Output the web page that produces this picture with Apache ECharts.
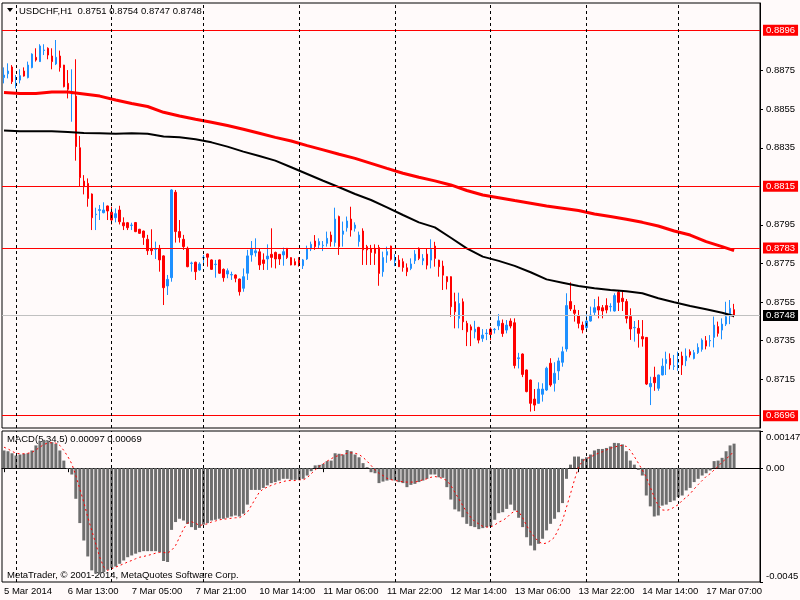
<!DOCTYPE html>
<html>
<head>
<meta charset="utf-8">
<title>USDCHF,H1</title>
<script src="https://cdn.jsdelivr.net/npm/echarts@6/dist/echarts.min.js"></script>
<style>
html,body{margin:0;padding:0;background:#FFFAFA;}
#chart{width:800px;height:600px;}
</style>
</head>
<body>
<div id="chart"></div>
<script type="text/javascript">
// H1 bars, first bar = 5 Mar 2014 21:00
var opens = [
0.88714,0.88734,0.88769,0.88683,0.88701,0.88748,0.88714,0.88766,0.88819,0.88797,
0.88855,0.88866,0.88826,0.88785,0.88826,0.88779,0.88684,0.88629,0.88618,0.88350,
0.88177,0.88165,0.88110,0.88003,0.88025,0.88013,0.88048,0.88016,0.87987,0.88027,
0.87961,0.87961,0.87947,0.87962,0.87927,0.87918,0.87875,0.87828,0.87823,0.87828,
0.87789,0.87633,0.87676,0.88119,0.87915,0.87875,0.87828,0.87750,0.87756,0.87716,
0.87779,0.87799,0.87768,0.87744,0.87768,0.87719,0.87695,0.87690,0.87690,0.87669,
0.87621,0.87699,0.87794,0.87805,0.87810,0.87768,0.87773,0.87797,0.87807,0.87797,
0.87794,0.87828,0.87780,0.87759,0.87768,0.87738,0.87773,0.87825,0.87866,0.87845,
0.87842,0.87854,0.87897,0.87859,0.87993,0.87901,0.87935,0.87980,0.87932,0.87863,
0.87918,0.87837,0.87828,0.87828,0.87832,0.87707,0.87793,0.87840,0.87762,0.87767,
0.87759,0.87727,0.87724,0.87764,0.87828,0.87764,0.87798,0.87767,0.87840,0.87767,
0.87736,0.87681,0.87681,0.87551,0.87465,0.87551,0.87439,0.87421,0.87395,0.87418,
0.87361,0.87386,0.87409,0.87406,0.87426,0.87439,0.87404,0.87451,0.87442,0.87256,
0.87280,0.87197,0.87145,0.87046,0.87024,0.87071,0.87093,0.87232,0.87128,0.87192,
0.87237,0.87306,0.87552,0.87508,0.87479,0.87430,0.87417,0.87451,0.87496,0.87526,
0.87520,0.87531,0.87525,0.87503,0.87600,0.87569,0.87552,0.87474,0.87416,0.87413,
0.87370,0.87366,0.87110,0.87159,0.87102,0.87171,0.87231,0.87257,0.87216,0.87235,
0.87269,0.87245,0.87292,0.87257,0.87287,0.87304,0.87349,0.87348,0.87366,0.87422,
0.87404,0.87435,0.87477,0.87510];
var highs = [
0.88767,0.88788,0.88779,0.88727,0.88757,0.88767,0.88797,0.88840,0.88866,0.88887,
0.88887,0.88871,0.88866,0.88909,0.88854,0.88780,0.88753,0.88757,0.88809,0.88411,
0.88208,0.88191,0.88113,0.88039,0.88053,0.88067,0.88050,0.88044,0.88035,0.88049,
0.87989,0.87965,0.87961,0.87965,0.87929,0.87920,0.87898,0.87927,0.87863,0.87846,
0.87792,0.87690,0.88135,0.88131,0.87975,0.87898,0.87837,0.87759,0.87759,0.87756,
0.87794,0.87801,0.87771,0.87768,0.87770,0.87724,0.87724,0.87707,0.87693,0.87671,
0.87724,0.87820,0.87866,0.87880,0.87828,0.87802,0.87849,0.87932,0.87811,0.87799,
0.87832,0.87830,0.87782,0.87776,0.87782,0.87773,0.87842,0.87863,0.87897,0.87880,
0.87866,0.87915,0.87915,0.88039,0.87998,0.87967,0.87993,0.88044,0.87963,0.87915,
0.87932,0.87846,0.87846,0.87849,0.87846,0.87811,0.87837,0.87842,0.87798,0.87793,
0.87776,0.87750,0.87776,0.87819,0.87833,0.87798,0.87828,0.87875,0.87862,0.87769,
0.87764,0.87683,0.87683,0.87598,0.87598,0.87568,0.87452,0.87433,0.87452,0.87421,
0.87409,0.87409,0.87418,0.87415,0.87487,0.87459,0.87456,0.87465,0.87465,0.87286,
0.87283,0.87199,0.87147,0.87098,0.87133,0.87128,0.87214,0.87258,0.87237,0.87261,
0.87318,0.87595,0.87652,0.87534,0.87508,0.87448,0.87486,0.87526,0.87565,0.87578,
0.87534,0.87569,0.87543,0.87595,0.87612,0.87612,0.87565,0.87517,0.87451,0.87456,
0.87456,0.87368,0.87162,0.87214,0.87173,0.87257,0.87292,0.87283,0.87275,0.87292,
0.87292,0.87309,0.87304,0.87301,0.87335,0.87361,0.87373,0.87378,0.87474,0.87448,
0.87465,0.87551,0.87560,0.87540];
var lows = [
0.88684,0.88710,0.88681,0.88658,0.88684,0.88719,0.88710,0.88762,0.88797,0.88795,
0.88831,0.88809,0.88757,0.88779,0.88745,0.88663,0.88606,0.88485,0.88283,0.88151,
0.88108,0.88044,0.87923,0.87923,0.87975,0.88010,0.87975,0.87952,0.87963,0.87952,
0.87923,0.87923,0.87923,0.87912,0.87903,0.87846,0.87794,0.87794,0.87773,0.87707,
0.87534,0.87586,0.87655,0.87858,0.87858,0.87820,0.87730,0.87707,0.87664,0.87712,
0.87750,0.87733,0.87716,0.87676,0.87696,0.87655,0.87673,0.87664,0.87652,0.87583,
0.87603,0.87664,0.87759,0.87785,0.87716,0.87716,0.87716,0.87728,0.87724,0.87742,
0.87738,0.87773,0.87740,0.87740,0.87733,0.87721,0.87768,0.87814,0.87820,0.87828,
0.87814,0.87837,0.87837,0.87837,0.87794,0.87837,0.87915,0.87889,0.87915,0.87837,
0.87742,0.87742,0.87742,0.87742,0.87634,0.87681,0.87753,0.87764,0.87736,0.87731,
0.87707,0.87684,0.87715,0.87747,0.87767,0.87741,0.87719,0.87724,0.87733,0.87681,
0.87612,0.87615,0.87473,0.87413,0.87413,0.87404,0.87321,0.87321,0.87361,0.87335,
0.87343,0.87352,0.87352,0.87386,0.87404,0.87369,0.87387,0.87413,0.87205,0.87205,
0.87160,0.87081,0.86981,0.86984,0.87022,0.87033,0.87088,0.87110,0.87085,0.87145,
0.87214,0.87292,0.87503,0.87448,0.87413,0.87387,0.87405,0.87448,0.87482,0.87465,
0.87465,0.87491,0.87500,0.87500,0.87503,0.87503,0.87439,0.87353,0.87344,0.87313,
0.87318,0.87119,0.87015,0.87089,0.87089,0.87169,0.87171,0.87200,0.87197,0.87193,
0.87171,0.87217,0.87262,0.87252,0.87280,0.87292,0.87304,0.87318,0.87314,0.87370,
0.87356,0.87425,0.87435,0.87470];
var closes = [
0.88727,0.88748,0.88693,0.88685,0.88724,0.88722,0.88779,0.88836,0.88805,0.88878,
0.88857,0.88831,0.88797,0.88819,0.88766,0.88667,0.88653,0.88639,0.88356,0.88195,
0.88148,0.88087,0.87987,0.88006,0.88029,0.88027,0.88022,0.87975,0.88008,0.87966,
0.87945,0.87935,0.87949,0.87915,0.87906,0.87885,0.87816,0.87816,0.87825,0.87768,
0.87624,0.87667,0.88131,0.87915,0.87885,0.87837,0.87733,0.87752,0.87707,0.87747,
0.87781,0.87782,0.87719,0.87746,0.87699,0.87676,0.87712,0.87692,0.87673,0.87603,
0.87681,0.87789,0.87828,0.87815,0.87742,0.87750,0.87788,0.87781,0.87773,0.87773,
0.87811,0.87780,0.87742,0.87742,0.87750,0.87768,0.87825,0.87849,0.87837,0.87863,
0.87844,0.87880,0.87863,0.87980,0.87837,0.87918,0.87970,0.87923,0.87949,0.87897,
0.87820,0.87820,0.87807,0.87802,0.87698,0.87780,0.87811,0.87771,0.87776,0.87733,
0.87729,0.87707,0.87747,0.87798,0.87776,0.87776,0.87741,0.87823,0.87776,0.87733,
0.87689,0.87655,0.87525,0.87499,0.87542,0.87447,0.87395,0.87404,0.87409,0.87352,
0.87378,0.87388,0.87381,0.87408,0.87452,0.87386,0.87430,0.87425,0.87220,0.87260,
0.87174,0.87085,0.87024,0.87015,0.87098,0.87098,0.87206,0.87119,0.87180,0.87244,
0.87292,0.87531,0.87514,0.87491,0.87439,0.87405,0.87451,0.87482,0.87520,0.87508,
0.87503,0.87508,0.87527,0.87583,0.87548,0.87552,0.87465,0.87410,0.87418,0.87387,
0.87358,0.87124,0.87127,0.87131,0.87171,0.87217,0.87252,0.87223,0.87218,0.87249,
0.87223,0.87269,0.87275,0.87287,0.87314,0.87352,0.87321,0.87350,0.87430,0.87387,
0.87435,0.87473,0.87517,0.87480];

// moving averages, read every 4th bar (and the last one)
var maIdx = [0,4,8,12,16,20,24,28,32,36,40,44,48,52,56,60,64,68,72,76,80,84,88,92,96,
  100,104,108,112,116,120,124,128,132,136,140,144,148,152,156,160,164,168,172,176,180,183];
var maRed = [
0.88637,0.88632,0.88632,0.88639,0.88639,0.88629,0.88618,0.88598,0.88580,0.88564,
0.88534,0.88515,0.88498,0.88482,0.88465,0.88446,0.88425,0.88404,0.88385,0.88361,
0.88339,0.88316,0.88295,0.88269,0.88243,0.88218,0.88197,0.88178,0.88157,0.88128,
0.88105,0.88091,0.88076,0.88062,0.88048,0.88036,0.88024,0.88006,0.87993,0.87979,
0.87963,0.87944,0.87918,0.87897,0.87863,0.87837,0.87816];
var maBlack = [
0.88440,0.88435,0.88435,0.88435,0.88432,0.88426,0.88425,0.88423,0.88425,0.88423,
0.88408,0.88404,0.88394,0.88378,0.88356,0.88330,0.88307,0.88283,0.88249,0.88214,
0.88179,0.88145,0.88110,0.88079,0.88041,0.88001,0.87963,0.87937,0.87883,0.87828,
0.87785,0.87763,0.87737,0.87704,0.87667,0.87650,0.87633,0.87621,0.87612,0.87605,
0.87595,0.87569,0.87548,0.87529,0.87512,0.87494,0.87477];

// MACD(5,34,5) in points of 0.00001
var macdMainPts = [
70,67,59,50,54,57,59,70,90,107,
112,109,103,96,70,30,-3,-25,-121,-217,
-286,-349,-404,-417,-420,-411,-402,-394,-389,-378,
-365,-352,-345,-338,-332,-328,-328,-328,-328,-332,
-367,-371,-244,-213,-200,-207,-220,-233,-244,-236,
-223,-217,-207,-204,-200,-200,-196,-191,-187,-191,
-180,-144,-86,-86,-86,-78,-68,-59,-55,-49,
-42,-42,-46,-46,-46,-42,-29,-12,11,13,
17,28,30,59,57,54,72,67,54,43,
20,4,-16,-20,-59,-53,-49,-46,-49,-55,
-59,-75,-66,-62,-55,-49,-42,-25,-25,-36,
-38,-75,-124,-163,-171,-194,-220,-229,-233,-241,
-237,-233,-230,-204,-178,-174,-161,-144,-167,-196,
-233,-273,-306,-325,-299,-279,-246,-220,-200,-174,
-138,-42,14,46,46,37,43,54,70,76,
76,80,86,100,99,94,67,30,14,-7,
-29,-108,-151,-191,-187,-148,-144,-134,-128,-115,
-108,-88,-78,-55,-42,-29,-20,-9,28,30,
41,67,90,97];
var macdSignalPts = [
83,76,67,59,57,57,59,63,72,83,
94,99,101,99,90,70,46,17,-29,-82,
-134,-194,-246,-299,-352,-391,-404,-398,-391,-385,
-378,-371,-365,-358,-352,-349,-345,-341,-336,-333,
-333,-336,-325,-306,-273,-240,-217,-212,-217,-227,
-223,-220,-213,-209,-204,-202,-200,-198,-196,-196,
-187,-174,-148,-121,-95,-82,-75,-68,-62,-58,
-53,-49,-49,-49,-46,-46,-38,-22,-7,7,
17,28,37,46,50,54,59,61,59,54,
43,28,11,-7,-20,-29,-40,-45,-49,-51,
-54,-55,-55,-55,-51,-46,-42,-36,-33,-36,
-41,-49,-68,-95,-121,-148,-174,-194,-211,-220,
-230,-233,-232,-225,-213,-207,-196,-180,-170,-171,
-196,-227,-253,-273,-290,-299,-296,-286,-273,-240,
-207,-154,-101,-46,4,28,38,43,53,59,
65,72,79,83,88,90,86,70,46,20,
-7,-36,-75,-115,-148,-165,-167,-163,-154,-144,
-128,-115,-101,-82,-65,-49,-33,-22,-7,7,
24,37,50,69];

// right scale labels
var priceTicks = [0.8715,0.8735,0.8755,0.8775,0.8795,0.8835,0.8855,0.8875];
var levelLines = [0.8896,0.8815,0.8783,0.8696];
var lastPrice = 0.8748;
var macdTicks = [0.00147,0,-0.0045];
var macdTickText = ['0.00147','0.00','-0.0045'];
var firstLabel = '5 Mar 2014';

var FONT = 'Liberation Sans';
var FS = 9.5;

// hourly time axis, fridays stop at 22:00, plus a few empty slots on the right
var months = ['Jan','Feb','Mar','Apr','May','Jun','Jul','Aug','Sep','Oct','Nov','Dec'];
var categories = [];
var t = Date.UTC(2014,2,5,21);
while(categories.length < 190){
    var d = new Date(t);
    var wd = d.getUTCDay(), h = d.getUTCHours();
    if(!(wd===6 || wd===0 || (wd===5 && h===23))){
        categories.push(d.getUTCDate()+' '+months[d.getUTCMonth()]+' '+(h<10?'0'+h:h)+':00');
    }
    t += 3600000;
}
var nBars = opens.length;

// day separators
var dayLines = [];
for(var i=1;i<nBars;i++){
    if(categories[i].slice(-5)==='00:00') dayLines.push({xAxis:categories[i]});
}

var candles = [];
for(var i=0;i<nBars;i++) candles.push([opens[i],closes[i],lows[i],highs[i]]);

var redPts = [], blackPts = [];
for(var i=0;i<maIdx.length;i++){
    redPts.push([maIdx[i],maRed[i]]);
    blackPts.push([maIdx[i],maBlack[i]]);
}
var macdMain = macdMainPts.map(function(v){return v/100000;});
var macdSignal = macdSignalPts.map(function(v){return v/100000;});

var hLines = levelLines.map(function(v){
    return {yAxis:v, lineStyle:{color:'#FF0000'}, label:{backgroundColor:'#FF0000'}};
});
hLines.push({yAxis:lastPrice, lineStyle:{color:'#C0C0C0'}, label:{backgroundColor:'#000000'}});

var dashStyle = {color:'#000', width:1, type:[3,3]};

var myChart = echarts.init(document.getElementById('chart'));
var option = {
    backgroundColor:'#FFFAFA',
    animation:false,
    textStyle:{fontFamily:FONT},
    grid:[
        {left:2, top:3, width:758, height:425, show:true, borderColor:'#000', borderWidth:1, outerBoundsMode:'none'},
        {left:2, top:431, width:758, height:151, show:true, borderColor:'#000', borderWidth:1, outerBoundsMode:'none'}
    ],
    xAxis:[
        {type:'category', gridIndex:0, data:categories, boundaryGap:true,
         axisLine:{show:false}, axisTick:{show:false}, axisLabel:{show:false}, splitLine:{show:false}},
        {type:'category', gridIndex:1, data:categories, boundaryGap:true,
         axisLine:{lineStyle:{color:'#000'}},
         axisTick:{show:true, alignWithLabel:true, length:4, lineStyle:{color:'#000'},
            interval:function(i){return i%16===0 && i<nBars;}},
         axisLabel:{color:'#000', fontFamily:FONT, fontSize:FS, align:'left', margin:4,
            interval:function(i){return i%16===0 && i<nBars;},
            formatter:function(v,i){return i===0?firstLabel:v;}},
         splitLine:{show:false}}
    ],
    yAxis:[
        {type:'value', gridIndex:0, position:'right', min:0.86896, max:0.89101,
         axisLine:{show:true, lineStyle:{color:'#000'}},
         axisTick:{show:true, length:3, customValues:priceTicks, lineStyle:{color:'#000'}},
         axisLabel:{customValues:priceTicks, color:'#000', fontFamily:FONT, fontSize:FS, margin:6,
            formatter:function(v){return v.toFixed(4);}},
         splitLine:{show:false}},
        {type:'value', gridIndex:1, position:'right', min:-0.0045, max:0.00147,
         axisLine:{show:true, lineStyle:{color:'#000'}},
         axisTick:{show:true, length:3, customValues:macdTicks, lineStyle:{color:'#000'}},
         axisLabel:{customValues:macdTicks, color:'#000', fontFamily:FONT, fontSize:FS, margin:6,
            formatter:function(v){
                var s = macdTickText[macdTicks.indexOf(v)];
                if(v>0) return '{top|'+s+'}';
                if(v<0) return '{bot|'+s+'}';
                return s;
            },
            rich:{
                top:{padding:[12,0,0,0], fontFamily:FONT, fontSize:FS, color:'#000'},
                bot:{padding:[0,0,12,0], fontFamily:FONT, fontSize:FS, color:'#000'}
            }},
         splitLine:{show:false}}
    ],
    series:[
        {
            name:'USDCHF', type:'candlestick', xAxisIndex:0, yAxisIndex:0,
            data:candles, barWidth:2,
            itemStyle:{color:'#1E90FF', color0:'#FF0000', borderColor:'#1E90FF', borderColor0:'#FF0000', borderWidth:1},
            markLine:{
                silent:true, symbol:['none','none'], animation:false, precision:4,
                lineStyle:{width:1, type:'solid'},
                label:{position:'end', distance:3, color:'#fff', fontFamily:FONT, fontSize:FS,
                    padding:[1,3,0,3], formatter:function(p){return Number(p.value).toFixed(4);}},
                data:hLines
            }
        },
        {
            name:'MA black', type:'line', xAxisIndex:0, yAxisIndex:0,
            data:blackPts, symbol:'none', lineStyle:{color:'#000', width:2},
            markLine:{
                silent:true, symbol:['none','none'], animation:false,
                lineStyle:dashStyle, label:{show:false}, data:dayLines
            }
        },
        {
            name:'MA red', type:'line', xAxisIndex:0, yAxisIndex:0,
            data:redPts, symbol:'none', lineStyle:{color:'#FF0000', width:3}
        },
        {
            name:'MACD', type:'bar', xAxisIndex:1, yAxisIndex:1,
            data:macdMain, barWidth:3, itemStyle:{color:'#6E6E6E'},
            markLine:{
                silent:true, symbol:['none','none'], animation:false,
                lineStyle:dashStyle, label:{show:false}, data:dayLines
            }
        },
        {
            name:'Signal', type:'line', xAxisIndex:1, yAxisIndex:1,
            data:macdSignal, symbol:'none', lineStyle:{color:'#FF0000', width:1, type:[2,3]}
        }
    ],
    graphic:[
        {type:'polygon', shape:{points:[[7,8],[13,8],[10,12]]}, style:{fill:'#000'}},
        {type:'text', x:19, y:11, style:{text:'USDCHF,H1  0.8751 0.8754 0.8747 0.8748',
            fill:'#000', fontFamily:FONT, fontSize:FS, verticalAlign:'middle'}},
        {type:'text', x:7, y:439, style:{text:'MACD(5,34,5) 0.00097 0.00069',
            fill:'#000', fontFamily:FONT, fontSize:FS, verticalAlign:'middle'}},
        {type:'text', x:7, y:575, style:{text:'MetaTrader, \u00a9 2001-2014, MetaQuotes Software Corp.',
            fill:'#000', fontFamily:FONT, fontSize:FS, verticalAlign:'middle'}}
    ]
};
myChart.setOption(option);
</script>
</body>
</html>
